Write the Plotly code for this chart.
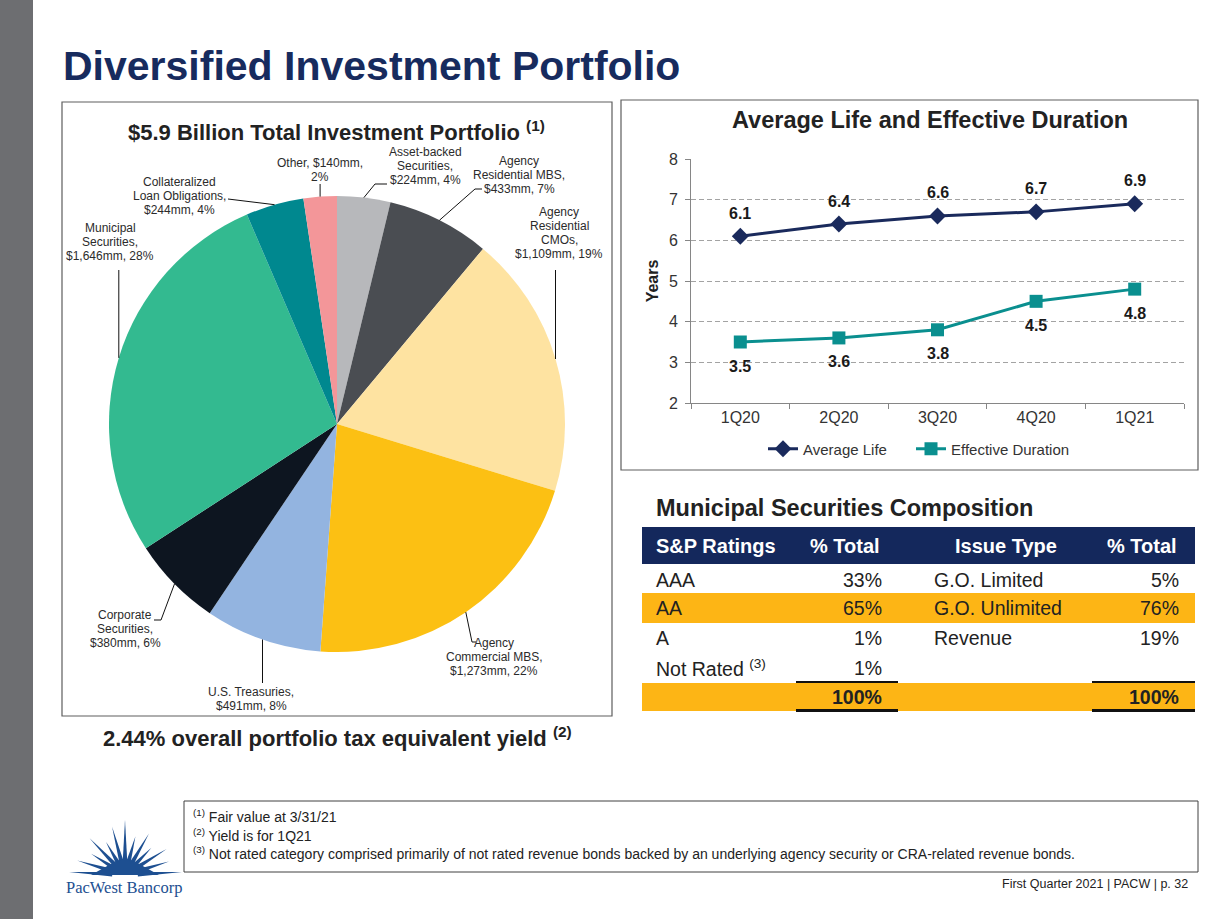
import math
import plotly.graph_objects as go

W, H = 1225, 919
FONT = "Liberation Sans, Arial, sans-serif"
NAVY = "#172B5E"
TXT = "#222222"

# ---------------- data ----------------
pie_names = ["Asset-backed<br>Securities", "Agency<br>Residential MBS", "Agency<br>Residential<br>CMOs",
             "Agency<br>Commercial MBS", "U.S. Treasuries", "Corporate<br>Securities",
             "Municipal<br>Securities", "Collateralized<br>Loan Obligations", "Other"]
pie_values = [224, 433, 1109, 1273, 491, 380, 1646, 244, 140]
pie_pct = [4, 7, 19, 22, 8, 6, 28, 4, 2]
pie_colors = ["#B7B8BB", "#4A4D52", "#FEE3A1", "#FCC013", "#93B4E0",
              "#0D1520", "#33BA90", "#00888F", "#F39699"]

quarters = ["1Q20", "2Q20", "3Q20", "4Q20", "1Q21"]
avg_life = [6.1, 6.4, 6.6, 6.7, 6.9]
eff_duration = [3.5, 3.6, 3.8, 4.5, 4.8]

ratings = ["AAA", "AA", "A", "Not Rated <sup>(3)</sup>"]
rating_pct = [33, 65, 1, 1]
issue_types = ["G.O. Limited", "G.O. Unlimited", "Revenue"]
issue_pct = [5, 76, 19]
total_pct = [100, 100]

footnotes = ["<sup>(1)</sup> Fair value at 3/31/21",
             "<sup>(2)</sup> Yield is for 1Q21",
             "<sup>(3)</sup> Not rated category comprised primarily of not rated revenue bonds backed by an underlying agency security or CRA-related revenue bonds."]

# ---------------- helpers ----------------
annotations = []
shapes = []


def add_text(x, y, text, size, color=TXT, bold=False, xanchor="center", yanchor="middle", family=FONT):
    if bold:
        text = f"<b>{text}</b>"
    annotations.append(dict(xref="x2", yref="y2", x=x, y=y, text=text, showarrow=False,
                            xanchor=xanchor, yanchor=yanchor, align=xanchor,
                            font=dict(size=size, color=color, family=family)))


def rect(x0, y0, x1, y1, fill=None, line=None, lw=1, layer="below"):
    shapes.append(dict(type="rect", xref="x2", yref="y2", x0=x0, y0=y0, x1=x1, y1=y1,
                       fillcolor=fill if fill else "rgba(0,0,0,0)",
                       line=dict(color=line if line else "rgba(0,0,0,0)", width=lw if line else 0),
                       layer=layer))


def seg(x0, y0, x1, y1, color="#000", lw=1):
    shapes.append(dict(type="line", xref="x2", yref="y2", x0=x0, y0=y0, x1=x1, y1=y1,
                       line=dict(color=color, width=lw)))


fig = go.Figure()

# ---------------- page frame ----------------
rect(0, 0, 33, H, fill="#6D6E71")
add_text(61, 66, "Diversified Investment Portfolio", 41, color=NAVY, bold=True, xanchor="left")
rect(62, 102, 612, 716, line="#5E5E5E", lw=1.2)
rect(621, 100, 1198, 470, line="#5E5E5E", lw=1.2)
rect(184, 801, 1198, 872, line="#404040", lw=1)

# ---------------- pie ----------------
cx, cy, R = 337, 424, 228
fig.add_trace(go.Pie(values=pie_values, labels=[n.replace("<br>", " ") for n in pie_names],
                     sort=False, direction="clockwise", rotation=0,
                     marker=dict(colors=pie_colors, line=dict(width=0)),
                     textinfo="none", textposition="none", showlegend=False,
                     domain=dict(x=[(cx - R) / W, (cx + R) / W], y=[1 - (cy + R) / H, 1 - (cy - R) / H])))

add_text(336, 131, "$5.9 Billion Total Investment Portfolio <sup>(1)</sup>", 22, color=TXT, bold=True)

label_pos = [(425, 166), (519, 175), (559, 233), (494, 657), (251, 699),
             (125, 629), (110, 242), (179, 196), (320, 170)]
leader_via = [[(375, 184), (387, 184)], [(475, 189), (482, 189)], [(None, 270)],
              [(472, 642), (476, 642)], [(None, 683)], [(161, 620), (154, 620)],
              [(None, 270)], [(228, 199)], [(None, 184)]]
value_on_name_line = [False] * 8 + [True]

total = sum(pie_values)
cum = 0
for i, (name, v, p) in enumerate(zip(pie_names, pie_values, pie_pct)):
    mid = (cum + v / 2) / total * 2 * math.pi
    cum += v
    ex, ey = cx + R * math.sin(mid), cy - R * math.cos(mid)
    if value_on_name_line[i]:
        s = f"{name}, ${v:,}mm,<br>{p}%"
    else:
        s = f"{name},<br>${v:,}mm, {p}%"
    lines = s.split("<br>")
    lx, ly = label_pos[i]
    n = len(lines)
    for k, ln in enumerate(lines):
        add_text(lx, ly + (k - (n - 1) / 2) * 14, ln, 12, color="#2B2B2B")
    path = f"M {ex:.1f},{ey:.1f}"
    for (px, py) in leader_via[i]:
        px = ex if px is None else px
        path += f" L {px:.1f},{py:.1f}"
    shapes.append(dict(type="path", xref="x2", yref="y2", path=path,
                       line=dict(color="#111111", width=1)))

add_text(337, 737, "2.44% overall portfolio tax equivalent yield <sup>(2)</sup>", 22, color=TXT, bold=True)

# ---------------- line chart ----------------
AL_COLOR = "#1A2A5C"
ED_COLOR = "#0A8F8F"
fig.add_trace(go.Scatter(x=quarters, y=avg_life, mode="lines+markers", name="Average Life",
                         line=dict(color=AL_COLOR, width=3),
                         marker=dict(symbol="diamond", size=13, color=AL_COLOR),
                         xaxis="x", yaxis="y", legend="legend"))
fig.add_trace(go.Scatter(x=quarters, y=eff_duration, mode="lines+markers", name="Effective Duration",
                         line=dict(color=ED_COLOR, width=3),
                         marker=dict(symbol="square", size=13, color=ED_COLOR),
                         xaxis="x", yaxis="y", legend="legend2"))
for q, v in zip(quarters, avg_life):
    annotations.append(dict(xref="x", yref="y", x=q, y=v, yshift=23, text=f"<b>{v:.1f}</b>",
                            showarrow=False, font=dict(size=16, color="#1A1A1A", family=FONT)))
for q, v in zip(quarters, eff_duration):
    annotations.append(dict(xref="x", yref="y", x=q, y=v, yshift=-24, text=f"<b>{v:.1f}</b>",
                            showarrow=False, font=dict(size=16, color="#1A1A1A", family=FONT)))

add_text(930, 120, "Average Life and Effective Duration", 23.5, color=TXT, bold=True)

# invisible pixel-space overlay axis for page furniture
fig.add_trace(go.Scatter(x=[], y=[], xaxis="x2", yaxis="y2", showlegend=False, hoverinfo="skip"))

# ---------------- table ----------------
add_text(654, 508, "Municipal Securities Composition", 23.5, color=TXT, bold=True, xanchor="left")
TL, TR = 642, 1195
C1, C2, C3, C4 = 654, 884, 932, 1181
GOLD = "#FDB515"
rect(TL, 527, TR, 564, fill="#14285C", layer="above")
add_text(C1, 546, "S&P Ratings", 20, color="white", bold=True, xanchor="left")
add_text(C2 - 2, 546, "% Total", 20, color="white", bold=True, xanchor="right")
add_text(953, 546, "Issue Type", 20, color="white", bold=True, xanchor="left")
add_text(C4 - 2, 546, "% Total", 20, color="white", bold=True, xanchor="right")

row_y = [580, 608, 638, 668]
row_fill = [None, GOLD, None, None]
for r, yy in enumerate(row_y):
    if row_fill[r]:
        rect(TL, yy - 15, TR, yy + 15, fill=row_fill[r])
for r, (name, p) in enumerate(zip(ratings, rating_pct)):
    add_text(C1, row_y[r], name, 19.5, xanchor="left")
    add_text(C2, row_y[r], f"{p}%", 19.5, xanchor="right")
for r, (name, p) in enumerate(zip(issue_types, issue_pct)):
    add_text(C3, row_y[r], name, 19.5, xanchor="left")
    add_text(C4, row_y[r], f"{p}%", 19.5, xanchor="right")
rect(TL, 683, TR, 711, fill=GOLD)
add_text(C2, 697, f"{total_pct[0]}%", 19.5, bold=True, xanchor="right")
add_text(C4, 697, f"{total_pct[1]}%", 19.5, bold=True, xanchor="right")
for (a, b) in [(796, 898), (1092, 1195)]:
    seg(a, 682, b, 682, color="#111", lw=2)
    seg(a, 710.5, b, 710.5, color="#111", lw=3)

# ---------------- footnotes & footer ----------------
for k, fn in enumerate(footnotes):
    add_text(191, [816, 835, 853][k], fn, 14, xanchor="left")
add_text(1190, 884, "First Quarter 2021 | PACW | p. 32", 12.5, xanchor="right")

# ---------------- logo ----------------
LOGO = "#1D4F91"
ox, oy = 125, 875
ray_angles = [-87, -73, -58, -44, -30, -15, 0, 15, 30, 44, 58, 73, 87]
ray_len = [56, 50, 40, 51, 38, 50, 55, 40, 48, 38, 49, 46, 57]
for ang, L in zip(ray_angles, ray_len):
    a = math.radians(ang)
    w = math.radians(10)
    r0 = 13
    b1 = (ox + r0 * math.sin(a - w), oy - r0 * math.cos(a - w))
    b2 = (ox + r0 * math.sin(a + w), oy - r0 * math.cos(a + w))
    tip = (ox + L * math.sin(a), oy - L * math.cos(a))
    shapes.append(dict(type="path", xref="x2", yref="y2",
                       path=f"M {b1[0]:.1f},{b1[1]:.1f} L {tip[0]:.1f},{tip[1]:.1f} L {b2[0]:.1f},{b2[1]:.1f} Z",
                       fillcolor=LOGO, line=dict(width=0)))
shapes.append(dict(type="path", xref="x2", yref="y2",
                   path=f"M {ox-34},{oy} L {ox-7},{oy} A 7 7 0 0 1 {ox+7},{oy} L {ox+34},{oy} "
                        f"L {ox+16},{oy-10} L {ox},{oy-17} L {ox-16},{oy-10} Z",
                   fillcolor=LOGO, line=dict(width=0)))
add_text(124, 887, "PacWest Bancorp", 16.5, color=LOGO, family="Liberation Serif, Times New Roman, serif")

# ---------------- layout ----------------
leg_common = dict(orientation="h", y=1 - 449 / H, yanchor="middle", xanchor="left",
                  font=dict(size=15, color="#333"), bgcolor="rgba(0,0,0,0)")
fig.update_layout(
    width=W, height=H, margin=dict(l=0, r=0, t=0, b=0, pad=0, autoexpand=False),
    paper_bgcolor="white", plot_bgcolor="rgba(0,0,0,0)",
    font=dict(family=FONT, color=TXT),
    xaxis=dict(domain=[691 / W, 1184 / W], anchor="y", range=[-0.5, 4.5], type="category",
               showline=True, linecolor="#868686", linewidth=1, ticks="outside", tickson="boundaries",
               ticklen=5, tickcolor="#868686", tickfont=dict(size=16, color="#333"), showgrid=False,
               fixedrange=True),
    yaxis=dict(domain=[1 - 403 / H, 1 - 159 / H], anchor="x", range=[2, 8], dtick=1,
               showline=True, linecolor="#868686", linewidth=1, ticks="outside", ticklen=5,
               tickcolor="#868686", tickfont=dict(size=16, color="#333"), ticklabelstandoff=4,
               showgrid=True, gridcolor="#A3A3A3", griddash="5px,3px", gridwidth=1.2, zeroline=False,
               title=dict(text="<b>Years</b>", font=dict(size=16, color="#222"), standoff=6),
               fixedrange=True),
    xaxis2=dict(domain=[0, 1], anchor="y2", range=[0, W], visible=False, fixedrange=True),
    yaxis2=dict(domain=[0, 1], anchor="x2", range=[H, 0], visible=False, fixedrange=True),
    legend=dict(x=763 / W, **leg_common),
    legend2=dict(x=911 / W, **leg_common),
    annotations=annotations,
    shapes=shapes,
)

post = ("document.documentElement.style.margin='0';document.body.style.margin='0';"
        "document.documentElement.style.overflow='hidden';"
        "var d=document.getElementById('{plot_id}');d.style.position='fixed';d.style.left='0px';d.style.top='0px';")
fig.write_html("out.html", config={"displayModeBar": False}, post_script=post)
